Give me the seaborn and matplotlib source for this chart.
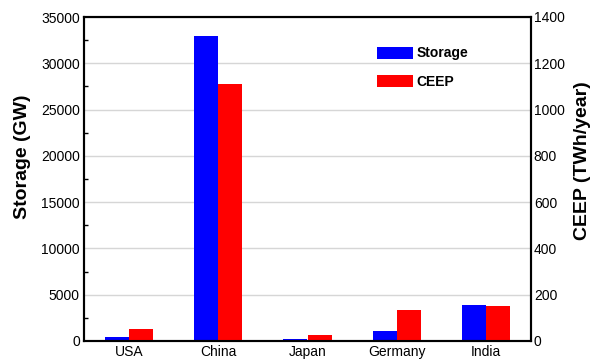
import numpy as np
import pandas as pd
import matplotlib
matplotlib.use("Agg")
import matplotlib.pyplot as plt
from matplotlib.ticker import MultipleLocator
from matplotlib.patches import Patch
import seaborn as sns

countries = ["USA", "China", "Japan", "Germany", "India"]
storage_gw = [400, 33000, 250, 1080, 3900]
ceep_twh = [50, 1110, 27, 134, 151]
metrics = ["Storage", "CEEP"]
colors = {"Storage": "#0000ff", "CEEP": "#ff0000"}

sns.set_theme(style="white")
plt.rcParams["font.family"] = ["Liberation Sans", "DejaVu Sans"]
plt.rcParams["text.color"] = "black"
plt.rcParams["axes.labelcolor"] = "black"

# long table: each metric only carries values on its own axis
rows = []
for c, s, e in zip(countries, storage_gw, ceep_twh):
    rows.append({"country": c, "metric": "Storage", "left": s, "right": np.nan})
    rows.append({"country": c, "metric": "CEEP", "left": np.nan, "right": e})
df = pd.DataFrame(rows)

fig = plt.figure(figsize=(5.91, 3.62), dpi=100)
ax = fig.add_axes([84 / 591, 1 - 341 / 362, 447 / 591, 324 / 362])
ax2 = ax.twinx()

bar_kw = dict(hue="metric", hue_order=metrics, order=countries, palette=colors,
              width=0.54, gap=0, errorbar=None, saturation=1, legend=False,
              linewidth=0, edgecolor="none", zorder=3)
sns.barplot(data=df, x="country", y="left", ax=ax, **bar_kw)
sns.barplot(data=df, x="country", y="right", ax=ax2, **bar_kw)

ax.set_xlim(-0.5, 4.5)
ax.set_ylim(0, 35000)
ax2.set_ylim(0, 1400)
ax.yaxis.set_major_locator(MultipleLocator(5000))
ax.yaxis.set_minor_locator(MultipleLocator(2500))
ax2.yaxis.set_major_locator(MultipleLocator(200))

ax.grid(axis="y", color="#d6d6d6", linewidth=1.0, zorder=0)
ax.set_axisbelow(True)

for a in (ax, ax2):
    for sp in a.spines.values():
        sp.set_linewidth(1.5)
        sp.set_color("black")
        sp.set_zorder(5)

ax.tick_params(axis="y", which="major", direction="in", length=0, pad=3,
               labelsize=10, colors="black")
ax.tick_params(axis="y", which="minor", direction="in", length=3, width=1,
               left=True, color="black")
ax.tick_params(axis="x", length=0, pad=3, labelsize=10, colors="black")
ax2.tick_params(axis="y", direction="in", length=0, pad=2, labelsize=10,
                colors="black")

ax.set_xlabel("")
ax.set_ylabel("Storage (GW)", fontsize=14, fontweight="bold", color="black")
ax2.set_ylabel("CEEP (TWh/year)", fontsize=14, fontweight="bold", color="black")
ax.yaxis.set_label_coords(-0.118, 0.568)
ax2.yaxis.set_label_coords(1.096, 0.556)

handles = [Patch(facecolor=colors[m], edgecolor="none", label=m) for m in metrics]
ax.legend(handles=handles, loc="upper left", bbox_to_anchor=(0.628, 0.948),
          frameon=False, prop={"weight": "bold", "size": 10},
          handlelength=2.6, handleheight=0.95, handletextpad=0.25,
          labelspacing=1.05, borderpad=0.4)

fig.savefig("out.png", dpi=100)
